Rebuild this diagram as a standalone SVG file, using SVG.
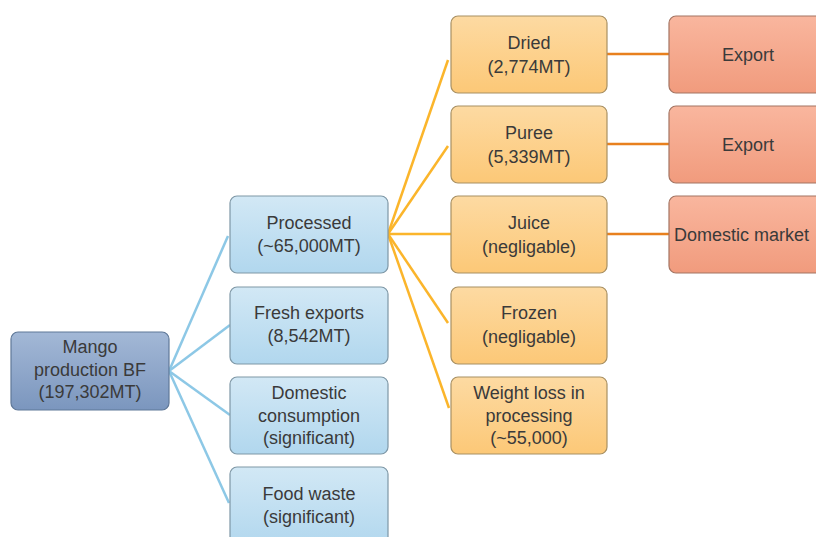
<svg xmlns="http://www.w3.org/2000/svg" width="816" height="537" viewBox="0 0 816 537">
<defs>
<linearGradient id="gRoot" x1="0" y1="0" x2="0" y2="1"><stop offset="0" stop-color="#A3B8D6"/><stop offset="1" stop-color="#7B96BE"/></linearGradient>
<linearGradient id="gBlue" x1="0" y1="0" x2="0" y2="1"><stop offset="0" stop-color="#D2E8F5"/><stop offset="1" stop-color="#B1D7EE"/></linearGradient>
<linearGradient id="gOrange" x1="0" y1="0" x2="0" y2="1"><stop offset="0" stop-color="#FDDAA2"/><stop offset="1" stop-color="#FCC877"/></linearGradient>
<linearGradient id="gRed" x1="0" y1="0" x2="0" y2="1"><stop offset="0" stop-color="#F9B69E"/><stop offset="1" stop-color="#F19B7D"/></linearGradient>
</defs>
<style>
text{font-family:"Liberation Sans",Arial,sans-serif;font-size:18px;fill:#3a3a3a;text-anchor:middle}
.root rect{fill:url(#gRoot);stroke:#5F7898;stroke-width:1.2}
.blue rect{fill:url(#gBlue);stroke:#7E97A6;stroke-width:1.2}
.orange rect{fill:url(#gOrange);stroke:#A89063;stroke-width:1.2}
.red rect{fill:url(#gRed);stroke:#A47563;stroke-width:1.2}
.cb{stroke:#8DC8E6;stroke-width:2.5;fill:none}
.co{stroke:#FBB52B;stroke-width:2.5;fill:none}
.cr{stroke:#E8801E;stroke-width:2.5;fill:none}
</style>
<rect width="816" height="537" fill="#fff"/>
<g id="connectors">
<line class="cb" x1="169" y1="371" x2="228" y2="236"/>
<line class="cb" x1="169" y1="371" x2="230" y2="325"/>
<line class="cb" x1="169" y1="371" x2="230" y2="415"/>
<line class="cb" x1="169" y1="371" x2="229" y2="503"/>
<line class="co" x1="388" y1="234" x2="448" y2="60"/>
<line class="co" x1="388" y1="234" x2="448" y2="146"/>
<line class="co" x1="388" y1="234" x2="451" y2="234"/>
<line class="co" x1="388" y1="234" x2="448" y2="323"/>
<line class="co" x1="388" y1="234" x2="449" y2="408"/>
<line class="cr" x1="607" y1="54" x2="669" y2="54"/>
<line class="cr" x1="607" y1="144" x2="669" y2="144"/>
<line class="cr" x1="607" y1="234" x2="669" y2="234"/>
</g>
<g id="root" class="root"><rect x="11" y="332" width="158" height="78" rx="7"/>
<text x="90" y="353">Mango</text><text x="90" y="376">production BF</text><text x="90" y="398">(197,302MT)</text></g>
<g id="processed" class="blue"><rect x="230" y="196" width="158" height="77" rx="7"/>
<text x="309" y="229">Processed</text><text x="309" y="252">(~65,000MT)</text></g>
<g id="fresh" class="blue"><rect x="230" y="287" width="158" height="77" rx="7"/>
<text x="309" y="319">Fresh exports</text><text x="309" y="342">(8,542MT)</text></g>
<g id="domestic" class="blue"><rect x="230" y="377" width="158" height="77" rx="7"/>
<text x="309" y="399">Domestic</text><text x="309" y="422">consumption</text><text x="309" y="444">(significant)</text></g>
<g id="waste" class="blue"><rect x="230" y="467" width="158" height="80" rx="7"/>
<text x="309" y="500">Food waste</text><text x="309" y="523">(significant)</text></g>
<g id="dried" class="orange"><rect x="451" y="16" width="156" height="77" rx="7"/>
<text x="529" y="49">Dried</text><text x="529" y="73">(2,774MT)</text></g>
<g id="puree" class="orange"><rect x="451" y="106" width="156" height="77" rx="7"/>
<text x="529" y="139">Puree</text><text x="529" y="163">(5,339MT)</text></g>
<g id="juice" class="orange"><rect x="451" y="196" width="156" height="77" rx="7"/>
<text x="529" y="229">Juice</text><text x="529" y="253">(negligable)</text></g>
<g id="frozen" class="orange"><rect x="451" y="287" width="156" height="77" rx="7"/>
<text x="529" y="319">Frozen</text><text x="529" y="343">(negligable)</text></g>
<g id="weightloss" class="orange"><rect x="451" y="377" width="156" height="77" rx="7"/>
<text x="529" y="399">Weight loss in</text><text x="529" y="422">processing</text><text x="529" y="444">(~55,000)</text></g>
<g id="export1" class="red"><rect x="669" y="16" width="160" height="77" rx="7"/>
<text x="748" y="61">Export</text></g>
<g id="export2" class="red"><rect x="669" y="106" width="160" height="77" rx="7"/>
<text x="748" y="151">Export</text></g>
<g id="market" class="red"><rect x="669" y="196" width="160" height="77" rx="7"/>
<text x="674" y="241" style="text-anchor:start">Domestic market</text></g>
</svg>
